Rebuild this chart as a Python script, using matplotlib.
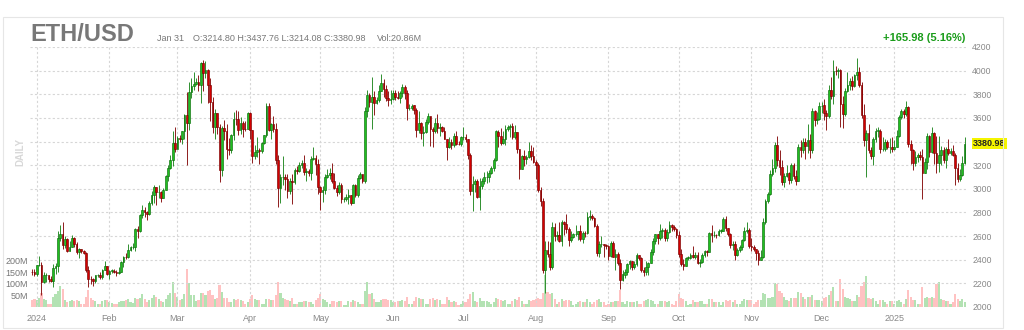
import numpy as np
import pandas as pd
import matplotlib
matplotlib.use("Agg")
import matplotlib.pyplot as plt
from matplotlib.patches import Rectangle
import matplotlib.transforms as mtransforms

plt.rcParams['font.family'] = ['Liberation Sans', 'DejaVu Sans']

# daily candles, 2023-12-30 .. 2025-01-31 (open = previous close)
first_open = 2300.0
dates = pd.date_range("2023-12-30", "2025-01-31", freq="D")

closes = [
    2292, 2281,
    2352, 2355, 2210, 2268, 2269, 2240, 2222, 2330, 2344, 2584, 2617, 2523, 2577, 2472, 2511, 2587, 2529, 2468, 2490, 2470, 2455, 2314, 2241, 2235, 2219, 2267, 2267, 2257, 2317, 2344, 2283,
    2305, 2307, 2297, 2290, 2300, 2377, 2424, 2420, 2486, 2504, 2507, 2660, 2642, 2777, 2823, 2804, 2786, 2882, 2945, 3015, 2970, 2972, 2922, 2993, 3112, 3178, 3243, 3385, 3340,
    3434, 3421, 3487, 3626, 3553, 3818, 3868, 3885, 3908, 3881, 4066, 3980, 4004, 3880, 3735, 3520, 3645, 3519, 3160, 3516, 3492, 3336, 3330, 3452, 3590, 3587, 3500, 3560, 3510, 3505, 3645,
    3500, 3276, 3311, 3330, 3320, 3390, 3453, 3700, 3500, 3545, 3505, 3240, 3008, 3100, 3100, 3085, 2985, 3065, 3055, 3155, 3147, 3200, 3220, 3140, 3155, 3130, 3255, 3263, 3210, 3014,
    2970, 2990, 3100, 3117, 3137, 3065, 3005, 2975, 3036, 2910, 2912, 2930, 2950, 2880, 3035, 2945, 3092, 3122, 3070, 3660, 3790, 3737, 3780, 3727, 3749, 3826, 3893, 3842, 3770, 3748, 3762,
    3815, 3780, 3765, 3810, 3865, 3810, 3680, 3680, 3705, 3665, 3500, 3560, 3470, 3480, 3565, 3620, 3510, 3485, 3560, 3515, 3520, 3490, 3420, 3352, 3395, 3370, 3450, 3380, 3375, 3435,
    3440, 3420, 3290, 2980, 3040, 3070, 2930, 3020, 3065, 3100, 3100, 3135, 3175, 3245, 3485, 3445, 3390, 3425, 3505, 3520, 3535, 3440, 3480, 3335, 3170, 3275, 3250, 3270, 3320, 3280, 3230,
    3200, 2990, 2900, 2310, 2480, 2450, 2340, 2680, 2600, 2610, 2555, 2720, 2700, 2660, 2570, 2590, 2615, 2615, 2640, 2575, 2630, 2625, 2765, 2770, 2750, 2685, 2460, 2530, 2530, 2525, 2515,
    2430, 2540, 2425, 2450, 2370, 2225, 2275, 2300, 2360, 2390, 2340, 2360, 2440, 2415, 2315, 2295, 2340, 2375, 2465, 2560, 2615, 2580, 2645, 2650, 2580, 2635, 2695, 2675, 2660, 2605,
    2450, 2365, 2350, 2415, 2415, 2440, 2420, 2440, 2370, 2385, 2440, 2475, 2465, 2630, 2605, 2610, 2605, 2645, 2645, 2745, 2665, 2620, 2525, 2535, 2440, 2480, 2510, 2565, 2640, 2655, 2515,
    2510, 2490, 2455, 2400, 2425, 2720, 2895, 2960, 3125, 3180, 3370, 3245, 3185, 3060, 3110, 3130, 3075, 3200, 3105, 3070, 3355, 3330, 3395, 3360, 3415, 3325, 3655, 3580, 3590, 3700,
    3705, 3640, 3615, 3840, 3785, 4000, 3995, 4005, 3715, 3630, 3830, 3880, 3910, 3870, 3960, 3985, 3880, 3625, 3415, 3475, 3330, 3280, 3420, 3490, 3490, 3335, 3335, 3395, 3350, 3355, 3335,
    3355, 3450, 3610, 3655, 3630, 3690, 3380, 3325, 3220, 3265, 3285, 3265, 3135, 3225, 3450, 3310, 3475, 3305, 3215, 3285, 3330, 3240, 3340, 3305, 3320, 3290, 3180, 3080, 3115, 3214.80, 3380.98,
]

highs = [
    2325, 2320,
    2355, 2430, 2385, 2295, 2285, 2270, 2260, 2360, 2370, 2640, 2690, 2717, 2600, 2580, 2560, 2610, 2590, 2550, 2500, 2495, 2480, 2465, 2345, 2260, 2245, 2275, 2280, 2295, 2320, 2390, 2350,
    2310, 2325, 2325, 2310, 2340, 2390, 2435, 2460, 2530, 2520, 2540, 2665, 2685, 2785, 2865, 2850, 2810, 2895, 2985, 3030, 3015, 3035, 2980, 3010, 3115, 3200, 3290, 3487, 3520,
    3450, 3455, 3490, 3630, 3822, 3900, 3940, 3990, 3940, 3960, 4075, 4093, 4085, 4010, 3935, 3780, 3675, 3645, 3545, 3530, 3585, 3545, 3430, 3465, 3650, 3665, 3660, 3610, 3575, 3575, 3650,
    3650, 3500, 3370, 3440, 3345, 3400, 3455, 3730, 3725, 3555, 3620, 3555, 3290, 3125, 3280, 3125, 3125, 3095, 3125, 3175, 3195, 3225, 3240, 3290, 3175, 3165, 3275, 3355, 3285, 3250,
    3020, 3020, 3125, 3170, 3175, 3220, 3130, 3030, 3060, 3050, 2935, 2955, 2995, 2950, 3045, 3040, 3120, 3145, 3125, 3690, 3840, 3810, 3950, 3830, 3780, 3880, 3975, 3930, 3880, 3825, 3840,
    3835, 3835, 3830, 3830, 3890, 3880, 3840, 3715, 3720, 3710, 3680, 3660, 3565, 3530, 3590, 3645, 3620, 3525, 3600, 3630, 3560, 3530, 3525, 3425, 3440, 3420, 3475, 3490, 3405, 3445,
    3525, 3465, 3425, 3305, 3110, 3080, 3080, 3090, 3090, 3145, 3150, 3160, 3190, 3260, 3495, 3500, 3515, 3490, 3540, 3540, 3550, 3560, 3540, 3485, 3340, 3290, 3330, 3285, 3400, 3370, 3350,
    3245, 3220, 3015, 2920, 2560, 2560, 2550, 2720, 2710, 2640, 2720, 2740, 2730, 2785, 2680, 2640, 2625, 2690, 2645, 2695, 2645, 2645, 2800, 2820, 2790, 2765, 2700, 2555, 2600, 2530, 2530,
    2525, 2560, 2555, 2490, 2465, 2410, 2315, 2325, 2375, 2395, 2390, 2390, 2460, 2440, 2420, 2335, 2390, 2380, 2490, 2580, 2620, 2615, 2700, 2670, 2670, 2660, 2725, 2705, 2690, 2665,
    2640, 2490, 2410, 2425, 2430, 2460, 2520, 2465, 2465, 2410, 2460, 2485, 2480, 2635, 2690, 2640, 2620, 2660, 2660, 2760, 2770, 2665, 2630, 2555, 2560, 2500, 2525, 2575, 2680, 2720, 2665,
    2585, 2525, 2495, 2480, 2480, 2750, 2915, 2975, 3160, 3250, 3400, 3445, 3330, 3240, 3130, 3205, 3140, 3220, 3220, 3160, 3380, 3410, 3430, 3430, 3545, 3460, 3685, 3670, 3650, 3735,
    3735, 3760, 3670, 3880, 3950, 4090, 4040, 4020, 4015, 3785, 3850, 3990, 3940, 3955, 3970, 4107, 4030, 3900, 3720, 3500, 3545, 3355, 3440, 3515, 3520, 3510, 3440, 3420, 3410, 3430, 3440,
    3410, 3500, 3625, 3675, 3675, 3745, 3700, 3410, 3340, 3320, 3300, 3320, 3340, 3260, 3470, 3455, 3525, 3480, 3450, 3450, 3365, 3350, 3350, 3420, 3345, 3370, 3300, 3215, 3170, 3280, 3437.76,
]

lows = [
    2270, 2265,
    2265, 2345, 2100, 2205, 2215, 2210, 2212, 2170, 2280, 2300, 2560, 2490, 2500, 2465, 2470, 2505, 2510, 2445, 2415, 2460, 2450, 2300, 2168, 2195, 2175, 2200, 2250, 2240, 2235, 2310, 2270,
    2235, 2285, 2290, 2260, 2280, 2295, 2335, 2410, 2415, 2475, 2490, 2475, 2585, 2635, 2755, 2760, 2735, 2775, 2860, 2880, 2865, 2925, 2890, 2920, 2990, 3070, 3165, 3195, 3310,
    3335, 3400, 3380, 3420, 3200, 3500, 3765, 3835, 3880, 3830, 3725, 3825, 3935, 3730, 3570, 3475, 3420, 3460, 3060, 3105, 3415, 3250, 3290, 3305, 3415, 3540, 3455, 3465, 3440, 3490, 3505,
    3420, 3215, 3250, 3270, 3210, 3305, 3380, 3440, 3490, 3420, 3480, 3210, 2850, 2880, 3030, 2990, 2925, 2955, 2870, 3040, 3125, 3140, 3175, 3120, 3065, 3110, 3075, 3245, 3120, 2955,
    2817, 2890, 2960, 3090, 3085, 3050, 3000, 2940, 2955, 2880, 2890, 2900, 2870, 2865, 2880, 2935, 2935, 3085, 3050, 3050, 3610, 3690, 3510, 3625, 3720, 3735, 3825, 3780, 3740, 3700, 3720,
    3750, 3750, 3760, 3730, 3780, 3760, 3580, 3670, 3665, 3635, 3435, 3470, 3420, 3365, 3470, 3550, 3365, 3355, 3470, 3470, 3450, 3485, 3420, 3240, 3345, 3340, 3355, 3375, 3370, 3365,
    3415, 3400, 3255, 2950, 2810, 2975, 2920, 2825, 3000, 3040, 3050, 3055, 3125, 3150, 3235, 3350, 3375, 3380, 3375, 3490, 3440, 3420, 3420, 3305, 3087, 3165, 3195, 3210, 3260, 3240, 3220,
    3080, 2975, 2855, 2290, 2120, 2420, 2310, 2320, 2555, 2570, 2550, 2520, 2610, 2630, 2520, 2550, 2580, 2605, 2570, 2560, 2540, 2590, 2615, 2740, 2735, 2675, 2430, 2420, 2505, 2425, 2490,
    2400, 2425, 2420, 2310, 2355, 2150, 2220, 2245, 2275, 2325, 2310, 2320, 2345, 2400, 2300, 2260, 2270, 2275, 2370, 2440, 2535, 2535, 2570, 2585, 2560, 2555, 2630, 2645, 2640, 2585,
    2420, 2350, 2310, 2345, 2400, 2410, 2415, 2410, 2360, 2340, 2375, 2425, 2435, 2465, 2550, 2590, 2580, 2600, 2630, 2640, 2640, 2600, 2500, 2485, 2395, 2430, 2465, 2485, 2560, 2630, 2500,
    2470, 2475, 2400, 2355, 2395, 2415, 2705, 2880, 2950, 3105, 3140, 3195, 3120, 3030, 3015, 3100, 3045, 3050, 3080, 3035, 3065, 3270, 3300, 3255, 3305, 3260, 3300, 3535, 3550, 3585,
    3645, 3580, 3500, 3600, 3760, 3720, 3960, 3935, 3520, 3515, 3615, 3820, 3840, 3840, 3860, 3920, 3860, 3600, 3360, 3100, 3305, 3250, 3200, 3395, 3440, 3300, 3320, 3320, 3340, 3300, 3315,
    3325, 3350, 3440, 3590, 3600, 3615, 3355, 3210, 3160, 3190, 3230, 3240, 2910, 3130, 3170, 3270, 3300, 3210, 3130, 3140, 3200, 3215, 3180, 3290, 3285, 3280, 3030, 3060, 3070, 3110, 3214.08,
]

# volume in millions
volumes = [
    30, 35,
    30, 40, 60, 35, 30, 15, 15, 45, 55, 70, 90, 80, 30, 20, 25, 30, 25, 30, 25, 15, 12, 45, 75, 40, 30, 25, 12, 12, 25, 30, 30,
    20, 18, 12, 12, 20, 25, 28, 30, 35, 20, 18, 40, 35, 40, 55, 35, 22, 30, 40, 50, 45, 35, 25, 22, 35, 50, 60, 110, 60,
    45, 30, 35, 55, 165, 105, 50, 50, 25, 30, 60, 60, 50, 70, 75, 50, 35, 40, 95, 65, 40, 40, 20, 20, 35, 30, 35, 30, 25, 15, 20,
    35, 50, 35, 30, 30, 15, 15, 35, 35, 30, 30, 50, 110, 60, 40, 35, 30, 25, 40, 15, 12, 20, 20, 25, 25, 20, 20, 15, 30, 40,
    55, 35, 30, 20, 15, 25, 25, 20, 25, 25, 10, 10, 25, 20, 30, 25, 20, 12, 12, 70, 110, 55, 60, 35, 20, 20, 30, 35, 35, 30, 30,
    20, 20, 25, 25, 30, 25, 45, 15, 12, 25, 45, 40, 35, 35, 15, 15, 35, 40, 30, 35, 30, 12, 15, 45, 30, 20, 25, 20, 10, 12,
    25, 20, 35, 55, 65, 25, 20, 40, 25, 25, 25, 20, 15, 20, 40, 35, 30, 25, 30, 15, 15, 25, 35, 30, 45, 25, 15, 15, 30, 25, 30,
    35, 40, 35, 60, 140, 65, 55, 60, 35, 15, 20, 35, 25, 30, 30, 25, 10, 12, 20, 25, 20, 20, 35, 20, 12, 20, 30, 35, 20, 20, 10,
    15, 20, 20, 25, 25, 75, 20, 15, 25, 20, 20, 20, 25, 15, 15, 25, 30, 35, 30, 25, 12, 15, 25, 25, 25, 20, 25, 15, 10, 25,
    55, 40, 35, 25, 10, 12, 30, 20, 20, 25, 25, 12, 15, 35, 35, 20, 20, 20, 10, 20, 30, 25, 30, 20, 30, 15, 12, 25, 35, 30, 30,
    30, 15, 20, 30, 30, 60, 55, 40, 40, 45, 105, 100, 70, 60, 45, 30, 25, 40, 40, 40, 65, 60, 45, 35, 45, 45, 50, 30, 30, 30,
    25, 40, 45, 50, 70, 85, 25, 25, 120, 80, 45, 40, 35, 25, 25, 50, 45, 90, 110, 135, 40, 35, 40, 25, 15, 30, 30, 20, 15, 25, 25,
    15, 25, 30, 20, 15, 35, 75, 45, 30, 30, 12, 15, 85, 40, 45, 40, 45, 40, 100, 110, 35, 30, 25, 25, 15, 20, 55, 35, 25, 35, 20.86,
]

month_labels = ["2024", "Feb", "Mar", "Apr", "May", "Jun", "Jul", "Aug", "Sep", "Oct", "Nov", "Dec", "2025"]
price_ticks = [2000, 2200, 2400, 2600, 2800, 3000, 3200, 3400, 3600, 3800, 4000, 4200]
vol_ticks = [50, 100, 150, 200]

assert len(closes) == len(highs) == len(lows) == len(volumes) == len(dates)

day0 = pd.Timestamp("2024-01-01")
x = np.array([(d - day0).days for d in dates])
c = np.array(closes, dtype=float)
o = np.r_[first_open, c[:-1]]
h = np.array(highs, dtype=float)
l = np.array(lows, dtype=float)
v = np.array(volumes, dtype=float)
up = c >= o
months = pd.date_range("2024-01-01", "2025-01-01", freq="MS")
month_x = [(m - day0).days for m in months]

W, H = 1024, 330
fig = plt.figure(figsize=(W / 100, H / 100), dpi=100)
ax = fig.add_axes([30 / W, (H - 307) / H, 936 / W, 260 / H])
ax2 = ax.twinx()
ax.set_zorder(ax2.get_zorder() + 1)
ax.patch.set_visible(False)

# volume
vcol = np.where(up, '#b3e2b3', '#ffc2c2')
ax2.bar(x, v, width=0.9, color=vcol, linewidth=0)
ax2.set_ylim(0, 1130)
ax2.yaxis.tick_left()
ax2.set_yticks(vol_ticks)
ax2.set_yticklabels([f"{t}M" for t in vol_ticks])
ax2.tick_params(axis='y', length=0, pad=1.3, labelsize=6.5, labelcolor='#777777')

# candles
wick_col = np.where(up, '#2f8f2f', '#8e1c1c')
body_col = np.where(up, '#1fbf1f', '#d40000')
edge_col = np.where(up, '#0c6e0c', '#7a0000')
ax.vlines(x, l, h, colors=wick_col, linewidth=0.7, zorder=3)
body_h = np.maximum(np.abs(c - o), 4)
ax.bar(x, body_h, bottom=np.minimum(o, c), width=0.74, color=body_col,
       edgecolor=edge_col, linewidth=0.45, zorder=4)

ax.set_xlim(-2.9, 396.6)
ax.set_ylim(2000, 4200)
ax.yaxis.tick_right()
ax.set_yticks(price_ticks)
# the 3400 label sits under the last-price tag, so it is left blank
ax.set_yticklabels(["" if abs(t - c[-1]) < 60 else str(t) for t in price_ticks])
ax.set_xticks(month_x)
ax.set_xticklabels(month_labels)
ax.tick_params(axis='y', length=0, pad=4.5, labelsize=6.2, labelcolor='#888888')
ax.tick_params(axis='x', length=0, pad=5, labelsize=6.5, labelcolor='#888888')
ax.grid(True, color='#d6d6d6', linestyle=(0, (2, 2)), linewidth=0.8, zorder=0)
for a in (ax, ax2):
    for s in a.spines.values():
        s.set_visible(False)

# last price tag
tr = mtransforms.blended_transform_factory(ax.transAxes, ax.transData)
ax.text(1.0075, c[-1], f"{c[-1]:.2f}", transform=tr, ha='left', va='center',
        fontsize=6.5, fontweight='bold', color='#222222',
        bbox=dict(boxstyle='square,pad=0.12', fc='#f5f500', ec='none'))

# header
fig.text(30 / W, 1 - 41 / H, "ETH/USD", fontsize=17, fontweight='bold', color='#787878', va='baseline')
fig.text(157 / W, 1 - 41 / H, "Jan 31", fontsize=6.5, color='#777777', va='baseline')
fig.text(193 / W, 1 - 41 / H, "O:3214.80 H:3437.76 L:3214.08 C:3380.98", fontsize=6.5, color='#777777', va='baseline')
fig.text(377 / W, 1 - 41 / H, "Vol:20.86M", fontsize=6.5, color='#777777', va='baseline')
fig.text(965 / W, 1 - 41 / H, "+165.98 (5.16%)", fontsize=8, fontweight='bold', color='#1a9c1a',
         va='baseline', ha='right')
fig.text(20 / W, 1 - 152 / H, "DAILY", rotation=90, fontsize=7, fontweight='bold', color='#d8d8d8',
         ha='center', va='center')

fig.patches.append(Rectangle((3 / W, 2 / H), 1000 / W, 311 / H, transform=fig.transFigure,
                             fill=False, edgecolor='#e6e6e6', linewidth=0.8))

fig.savefig("out.png", dpi=100)
